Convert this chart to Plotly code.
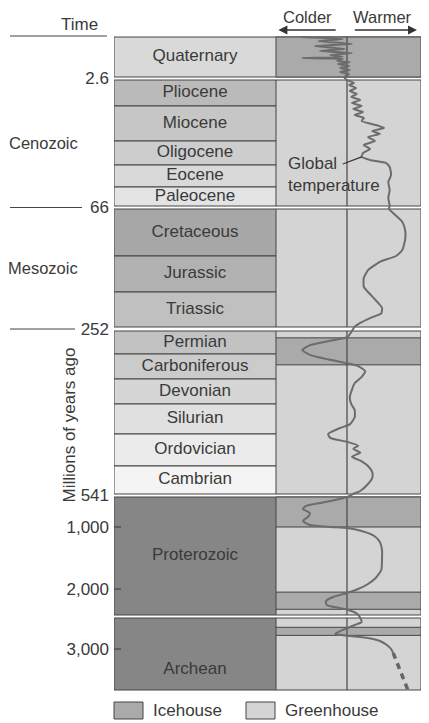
import numpy as np
import plotly.graph_objects as go

# ---------------- data ----------------
periods = ["Quaternary", "Pliocene", "Miocene", "Oligocene", "Eocene", "Paleocene",
           "Cretaceous", "Jurassic", "Triassic",
           "Permian", "Carboniferous", "Devonian", "Silurian", "Ordovician", "Cambrian",
           "Proterozoic", "Archean"]
period_start = [0, 2.6, 5.3, 23, 34, 56, 66, 145, 201, 252, 299, 359, 419, 444, 485, 541, 2500]
period_end = [2.6, 5.3, 23, 34, 56, 66, 145, 201, 252, 299, 359, 419, 444, 485, 541, 2500, 3660]

eras = ["Cenozoic", "Mesozoic"]

# icehouse intervals (Ma), everything else is greenhouse
ice_start = [0, 266, 541, 2060, 2650]
ice_end = [2.6, 325, 1000, 2390, 2780]

# global temperature, relative: <0 colder, >0 warmer
temp_age = [0, 0.13, 0.26, 0.46, 0.59, 0.78, 0.91, 1.04, 1.17, 1.30, 1.37, 1.43, 1.56, 1.63,
            1.76, 1.89, 2.02, 2.15, 2.28, 2.41, 2.59,
            2.6, 2.91, 3.12, 3.43, 3.74, 4.05, 4.36, 4.68, 4.99, 5.3, 6.82, 8.34, 9.85, 11.37,
            12.89, 14.9, 16.4, 17.95, 19.47, 20.98, 23.0, 24.8, 26.7, 28.5, 30.3, 31.7, 33.1,
            36, 44, 51, 57.6, 61.8, 65.9,
            66, 76, 87.8, 101, 118, 135, 145, 154, 167, 179, 193, 201, 213, 224, 232, 239, 246, 251.5,
            252, 264, 272, 281, 291, 301, 313, 321, 328, 340, 354, 369, 385, 402, 419, 424, 430,
            436, 439, 444, 449, 454, 459, 463, 468, 473, 479, 485, 497, 509, 521, 535, 540,
            541, 587, 633, 679, 725, 786, 847, 908, 969, 1000, 1016, 1065, 1145, 1242, 1371, 1532,
            1694, 1823, 1919, 2000, 2077, 2154, 2230, 2307, 2384, 2442, 2495,
            2500, 2565, 2613, 2661, 2710, 2758, 2790, 2823, 2871, 2935, 3000, 3065]
temp_val = [-0.64, -0.06, -0.41, 0.07, -0.46, -0.03, -0.39, 0.07, -0.24, -0.06, -0.64, -0.06,
            -0.14, 0.04, -0.13, 0.03, -0.10, 0.04, -0.10, 0.03, -0.04,
            0.0, 0.10, 0.03, 0.13, 0.04, 0.14, 0.06, 0.19, 0.07, 0.21, 0.09, 0.23, 0.11, 0.24,
            0.21, 0.41, 0.53, 0.36, 0.47, 0.30, 0.40, 0.24, 0.33, 0.23, 0.21, 0.33, 0.56,
            0.61, 0.63, 0.59, 0.61, 0.59, 0.61,
            0.60, 0.69, 0.79, 0.83, 0.83, 0.79, 0.70, 0.47, 0.30, 0.24, 0.24, 0.30, 0.41, 0.50,
            0.49, 0.33, 0.19, 0.11,
            0.07, 0.01, -0.24, -0.53, -0.64, -0.53, -0.24, 0.0, 0.16, 0.26, 0.21, 0.11, 0.07,
            0.04, 0.06, 0.11, 0.11, 0.04, -0.10, -0.27, -0.24, 0.0, 0.16, 0.09, 0.19, 0.07, 0.21,
            0.30, 0.36, 0.36, 0.30, 0.19, 0.10,
            0.0, -0.17, -0.39, -0.59, -0.63, -0.53, -0.56, -0.63, -0.53, -0.24, 0.0, 0.21, 0.39,
            0.47, 0.50, 0.50, 0.49, 0.41, 0.30, 0.16, 0.0, -0.20, -0.30, -0.29, -0.03, 0.10, 0.16,
            0.19, 0.21, 0.11, 0.01, -0.10, -0.17, 0.04, 0.30, 0.47, 0.57, 0.63, 0.66]
# uncertain oldest part (dashed)
temp_age_guess = [3065, 3660]
temp_val_guess = [0.66, 0.87]

tick_age = [2.6, 66, 252, 541, 1000, 2000, 3000]
tick_text = ["2.6", "66", "252", "541", "1,000", "2,000", "3,000"]

# ---------------- layout / style ----------------
# the page body has an 8px margin, so the figure is drawn 8px smaller and
# every pixel row/column below is measured on the full 429x723 page
OFF = 8
W, H = 429 - OFF, 723 - OFF
FONT = "Liberation Sans, Arial, sans-serif"
INK = "#3a3a3a"
EDGE = "#454545"
ICE = "#aaaaaa"
GREEN = "#d4d4d4"

period_fill = ["#d9d9d9", "#bababa", "#c6c6c6", "#cdcdcd", "#d9d9d9", "#e4e4e4",
               "#a7a7a7", "#b1b1b1", "#c0c0c0",
               "#c2c2c2", "#cbcbcb", "#d6d6d6", "#e0e0e0", "#ebebeb", "#f4f4f4",
               "#868686", "#868686"]

# the time scale is stretched differently in each panel: age knots -> pixel row
panel_knots = [
    ([0, 2.6], [37, 77]),
    ([2.6, 5.3, 23, 34, 56, 66], [80, 106, 141, 165, 187, 206]),
    ([66, 145, 201, 252], [209, 256, 292, 327]),
    ([252, 299, 359, 419, 444, 485, 541], [331, 354, 379, 404, 434, 466, 494]),
    ([541, 1000, 2000, 2500], [497, 527, 589, 615]),
    ([2500, 3000, 3660], [618, 649, 690]),
]
panel_top_age = [k[0][0] for k in panel_knots]
era_panel = [1, 2]
label_shift = {"Archean": 16}

col_left, col_mid, col_right = 114, 276, 421  # column edges (px)
center_px, t_px = 347, 70                      # temperature 0 and unit width (px)
t_lo = (col_mid - center_px) / t_px
t_hi = (col_right - center_px) / t_px


def px(x):
    return (x - OFF) / W


def panel_of(age):
    return max(i for i, a in enumerate(panel_top_age) if age >= a)


def to_y(age, panel=None):
    if panel is None:
        panel = panel_of(age)
    ages, ys = panel_knots[panel]
    return float(np.interp(age, ages, ys))


def tick_y(age):
    p = panel_of(age)
    if p > 0 and age == panel_top_age[p]:
        return (to_y(age, p - 1) + to_y(age, p)) / 2
    return to_y(age)


shapes = []
annotations = []

# left column: period boxes
for name, a0, a1, fill in zip(periods, period_start, period_end, period_fill):
    p = panel_of(a0)
    shapes.append(dict(type="rect", xref="x", yref="y", x0=0, x1=1,
                       y0=to_y(a0, p), y1=to_y(a1, p), fillcolor=fill,
                       line=dict(color=EDGE, width=1), layer="below"))

# right column: greenhouse background per panel, icehouse bands, centre line
for p, (ages, ys) in enumerate(panel_knots):
    shapes.append(dict(type="rect", xref="x2", yref="y", x0=t_lo, x1=t_hi,
                       y0=ys[0], y1=ys[-1], fillcolor=GREEN,
                       line=dict(color=EDGE, width=1), layer="below"))
for a0, a1 in zip(ice_start, ice_end):
    p = panel_of(a0)
    shapes.append(dict(type="rect", xref="x2", yref="y", x0=t_lo, x1=t_hi,
                       y0=to_y(a0, p), y1=to_y(a1, p), fillcolor=ICE,
                       line=dict(color=EDGE, width=1), layer="below"))
for p, (ages, ys) in enumerate(panel_knots):
    shapes.append(dict(type="line", xref="x2", yref="y", x0=0, x1=0,
                       y0=ys[0], y1=ys[-1], line=dict(color=EDGE, width=1.2), layer="below"))

# tick marks for the Precambrian scale
for a in tick_age[4:]:
    shapes.append(dict(type="line", xref="x", yref="y", x0=0, x1=7 / (col_mid - col_left),
                       y0=to_y(a), y1=to_y(a), line=dict(color=EDGE, width=1.2)))

# era separator lines on the left
top_y = to_y(0) - 1
shapes.append(dict(type="line", xref="paper", yref="y", x0=px(10), x1=px(107),
                   y0=top_y, y1=top_y, line=dict(color=EDGE, width=1.2)))
for a, x_end in zip([66, 252], [82, 75]):
    shapes.append(dict(type="line", xref="paper", yref="y", x0=px(10), x1=px(x_end),
                       y0=tick_y(a), y1=tick_y(a), line=dict(color=EDGE, width=1.2)))

for name, p in zip(eras, era_panel):
    ys = panel_knots[p][1]
    annotations.append(dict(text=name, xref="paper", yref="y", x=px(80),
                            y=(ys[0] + ys[-1]) / 2, xanchor="right", showarrow=False,
                            font=dict(size=16.5, color=INK, family=FONT)))

annotations.append(dict(text="Time", xref="paper", yref="y", x=px(59), y=24,
                        showarrow=False, font=dict(size=17, color=INK, family=FONT)))
annotations.append(dict(text="Millions of years ago", xref="paper", yref="y", x=px(57),
                        y=425, textangle=-90, showarrow=False,
                        font=dict(size=17, color=INK, family=FONT)))

# colder / warmer header with arrows
annotations.append(dict(text="Colder", xref="x2", yref="y", x=-0.56, y=17,
                        showarrow=False, font=dict(size=16.5, color=INK, family=FONT)))
annotations.append(dict(text="Warmer", xref="x2", yref="y", x=0.51, y=17,
                        showarrow=False, font=dict(size=16.5, color=INK, family=FONT)))
for head, tail in [(-0.98, -0.14), (1.0, 0.09)]:
    annotations.append(dict(text="", xref="x2", yref="y", x=head, y=30,
                            axref="x2", ayref="y", ax=tail, ay=30, showarrow=True,
                            arrowhead=2, arrowsize=1.2, arrowwidth=1.5, arrowcolor="#333"))

# label for the curve
k = temp_age.index(30.3)
annotations.append(dict(text="Global<br>temperature", xref="x2", yref="y", x=-0.87,
                        y=174.5, xanchor="left", align="left", showarrow=False,
                        font=dict(size=17, color=INK, family=FONT)))
shapes.append(dict(type="line", xref="x2", yref="y", x0=-0.06, y0=164,
                   x1=temp_val[k], y1=to_y(temp_age[k]), line=dict(color="#333", width=1.2)))

# legend
for x0, x1, fill, name in [(114, 143, ICE, "Icehouse"), (246, 275, GREEN, "Greenhouse")]:
    shapes.append(dict(type="rect", xref="paper", yref="y", x0=px(x0), x1=px(x1),
                       y0=702, y1=719, fillcolor=fill, line=dict(color=EDGE, width=1)))
    annotations.append(dict(text=name, xref="paper", yref="y", x=px(x1 + 8), y=710,
                            xanchor="left", showarrow=False,
                            font=dict(size=17, color=INK, family=FONT)))

fig = go.Figure()

fig.add_trace(go.Scatter(
    x=temp_val, y=[to_y(a) for a in temp_age], xaxis="x2", yaxis="y",
    mode="lines", line=dict(color="#6c6c6c", width=2, shape="spline", smoothing=0.5),
    hoverinfo="skip", showlegend=False))
fig.add_trace(go.Scatter(
    x=temp_val_guess, y=[to_y(a) for a in temp_age_guess], xaxis="x2", yaxis="y",
    mode="lines", line=dict(color="#666666", width=3.5, dash="6px,5px"),
    hoverinfo="skip", showlegend=False))

label_y = []
for name, a0, a1 in zip(periods, period_start, period_end):
    p = panel_of(a0)
    label_y.append((to_y(a0, p) + to_y(a1, p)) / 2 + label_shift.get(name, 0))
fig.add_trace(go.Scatter(
    x=[0.5] * len(periods), y=label_y, text=periods, mode="text",
    textfont=dict(size=17, color=INK, family=FONT), hoverinfo="skip", showlegend=False))

fig.update_layout(
    width=W, height=H, margin=dict(l=0, r=0, t=0, b=0),
    paper_bgcolor="white", plot_bgcolor="white",
    shapes=shapes, annotations=annotations, showlegend=False,
    xaxis=dict(domain=[px(col_left), px(col_mid)], range=[0, 1], visible=False,
               fixedrange=True),
    xaxis2=dict(domain=[px(col_mid), px(col_right)], range=[t_lo, t_hi], anchor="y",
                visible=False, fixedrange=True),
    yaxis=dict(domain=[0, 1], range=[H + OFF, OFF], anchor="x",
               tickvals=[tick_y(a) for a in tick_age], ticktext=tick_text,
               ticks="", showgrid=False, zeroline=False, showline=False,
               ticklabelstandoff=4, tickfont=dict(size=17, color=INK, family=FONT),
               fixedrange=True),
)

fig.write_html("out.html")
